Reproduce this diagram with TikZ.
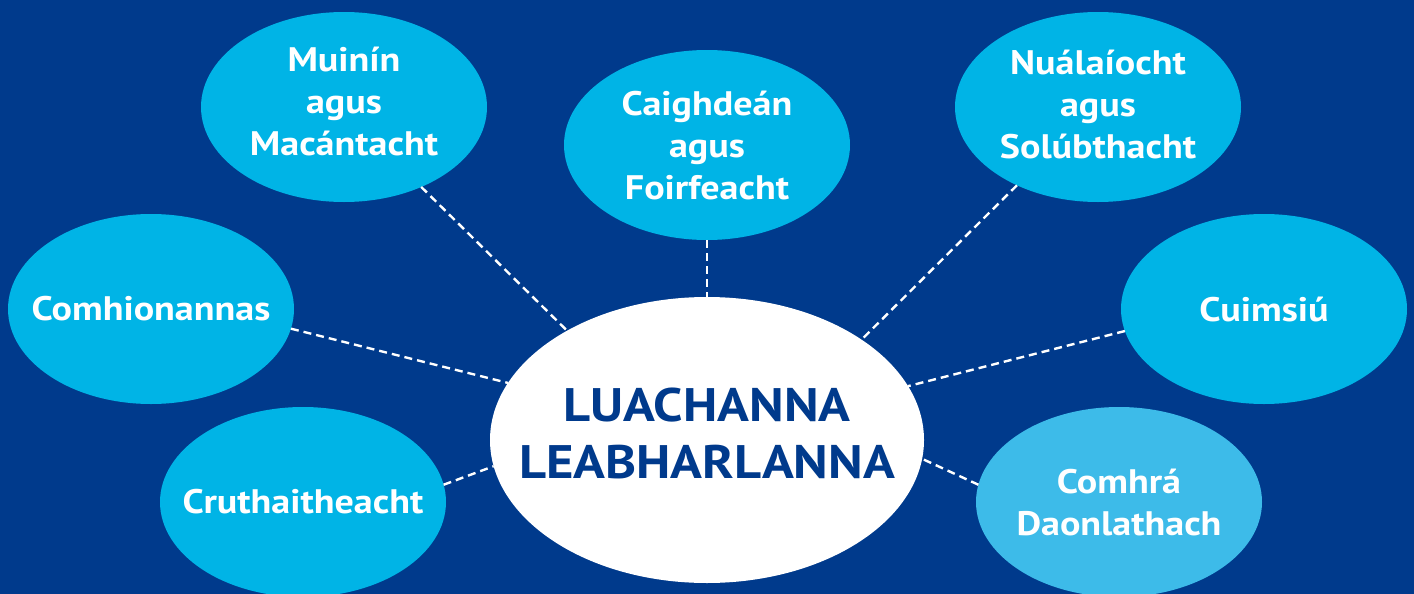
\documentclass[tikz,border=0pt]{standalone}
\usepackage{fontspec}
\setmainfont[FakeStretch=1.12]{PT Sans}
\usepackage{tikz}
\usetikzlibrary{shapes.geometric}
\definecolor{navy}{HTML}{003A8C}
\definecolor{sky}{HTML}{00B4E6}
\definecolor{palesky}{HTML}{3DBBE9}

\begin{document}
\begin{tikzpicture}[x=0.5pt,y=-0.5pt,
    value/.style={ellipse, fill=sky, minimum width=143pt, minimum height=95pt,
      inner sep=0pt, outer sep=0pt},
    valtext/.style={text=white, align=center, inner sep=0pt,
      font=\bfseries\fontsize{17}{21}\selectfont},
    link/.style={white, dash pattern=on 4pt off 2.5pt, line width=1.2pt}]
    \def \cx {707} % centre of the picture
    \fill[navy] (0,0) rectangle (1414,594);
    \useasboundingbox (0,0) rectangle (1414,594);
    \node[ellipse, fill=white, minimum width=217pt, minimum height=143pt,
      inner sep=0pt, outer sep=0pt,
      label={[text=navy, align=center, inner sep=0pt, yshift=3.5pt,
        font=\bfseries\fontsize{23.5}{28.5}\selectfont]center:LUACHANNA\\LEABHARLANNA}]
      (centre) at (\cx,440) {};
    \node[value, label={[valtext, yshift=3pt]center:Muinín\\agus\\Macántacht}] (muinin) at (344,107) {};
    \node[value, label={[valtext]center:Caighdeán\\agus\\Foirfeacht}] (caighdean) at (\cx,145) {};
    \node[value, label={[valtext, yshift=1.5pt]center:Nuálaíocht\\agus\\Solúbthacht}] (nualaiocht) at (1098,107) {};
    \node[value, label={[valtext]center:Comhionannas}] (comhionannas) at (151,309) {};
    \node[value, label={[valtext]center:Cuimsiú}] (cuimsiu) at (1264,309) {};
    \node[value, label={[valtext]center:Cruthaitheacht}] (cruthaitheacht) at (303,502) {};
    \node[value, fill=palesky, label={[valtext]center:Comhrá\\Daonlathach}] (comhra) at (1119,502) {};
    \foreach \n/\a/\b in {muinin/-46/142, caighdean/-90/90, nualaiocht/224/33,
      comhionannas/-8/164, cuimsiu/189/15, cruthaitheacht/7/187, comhra/173/-5}
    {
      \draw[link] (\n.\a) -- (centre.\b);
    }
\end{tikzpicture}
\end{document}
